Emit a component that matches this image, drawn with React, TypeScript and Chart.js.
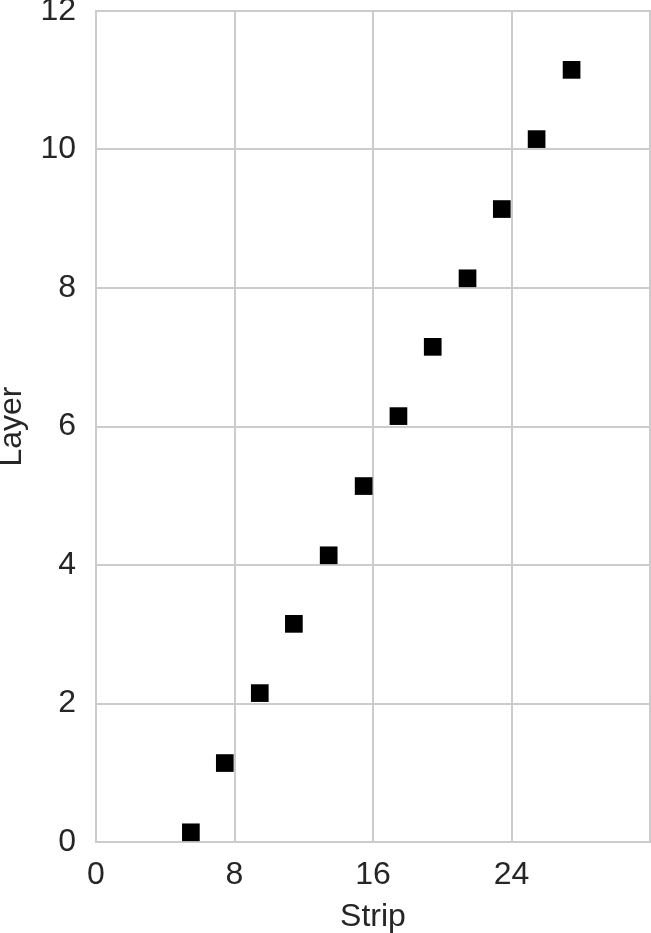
import React, { useEffect, useRef } from "react";
import { Chart, registerables } from "chart.js";

Chart.register(...registerables);

const stripValues = [5.48, 7.44, 9.46, 11.43, 13.44, 15.46, 17.47, 19.45, 21.46, 23.44, 25.45, 27.47];
const layerValues = [0.14, 1.14, 2.15, 3.15, 4.14, 5.14, 6.15, 7.15, 8.14, 9.14, 10.15, 11.15];
const xTicks = [0, 8, 16, 24, 32];
const yTicks = [0, 2, 4, 6, 8, 10, 12];

const FONT = "'Liberation Sans', Arial, sans-serif";
const TEXT = "#262626";
const GRID = "#cccccc";
const FS = 32;

export default function App() {
  const ref = useRef<HTMLCanvasElement>(null);
  useEffect(() => {
    document.body.style.margin = "0";
    const ctx = ref.current!;
    const chart = new Chart(ctx, {
      type: "scatter",
      data: {
        datasets: [
          {
            data: stripValues.map((x, i) => ({ x, y: layerValues[i] })),
            pointStyle: "rect",
            pointRadius: 12.5,
            backgroundColor: "#000000",
            borderWidth: 0,
          },
        ],
      },
      options: {
        animation: false,
        responsive: false,
        layout: { padding: 0, autoPadding: false },
        plugins: { legend: { display: false }, tooltip: { enabled: false } },
        scales: {
          x: {
            type: "linear",
            min: 0,
            max: 32,
            afterBuildTicks: (s: any) => {
              s.ticks = xTicks.map((v) => ({ value: v }));
            },
            afterFit: (s: any) => {
              s.height = 91;
              s.paddingRight = 1;
              s.paddingLeft = 0;
            },
            ticks: {
              font: { family: FONT, size: FS },
              color: TEXT,
              padding: 14,
              callback: (v: any) => (v === 32 ? "" : String(v)),
              maxRotation: 0,
            },
            grid: { color: GRID, lineWidth: 2, drawTicks: false },
            border: { color: GRID, width: 2 },
            title: {
              display: true,
              text: "Strip",
              font: { family: FONT, size: FS },
              color: TEXT,
              padding: { top: 0, bottom: -3 },
            },
          },
          y: {
            type: "linear",
            min: 0,
            max: 12,
            afterBuildTicks: (s: any) => {
              s.ticks = yTicks.map((v) => ({ value: v }));
            },
            afterFit: (s: any) => {
              s.width = 96;
              s.paddingTop = 11;
              s.paddingBottom = 0;
            },
            ticks: {
              font: { family: FONT, size: FS },
              color: TEXT,
              padding: 20,
            },
            grid: { color: GRID, lineWidth: 2, drawTicks: false },
            border: { color: GRID, width: 2 },
            title: {
              display: true,
              text: "Layer",
              font: { family: FONT, size: FS },
              color: TEXT,
              padding: { top: -7, bottom: 0 },
            },
          },
        },
      },
      plugins: [
        {
          id: "frame",
          afterDraw(c: any) {
            const { ctx: g, chartArea: a } = c;
            g.save();
            g.strokeStyle = GRID;
            g.lineWidth = 2;
            g.beginPath();
            g.moveTo(a.left, a.top);
            g.lineTo(a.right, a.top);
            g.lineTo(a.right, a.bottom);
            g.stroke();
            g.restore();
          },
        },
      ],
    } as any);
    return () => chart.destroy();
  }, []);
  return (
    <div style={{ position: "absolute", left: 0, top: 0, width: 651, height: 933 }}>
      <canvas ref={ref} width={651} height={933} style={{ width: 651, height: 933 }} />
    </div>
  );
}
